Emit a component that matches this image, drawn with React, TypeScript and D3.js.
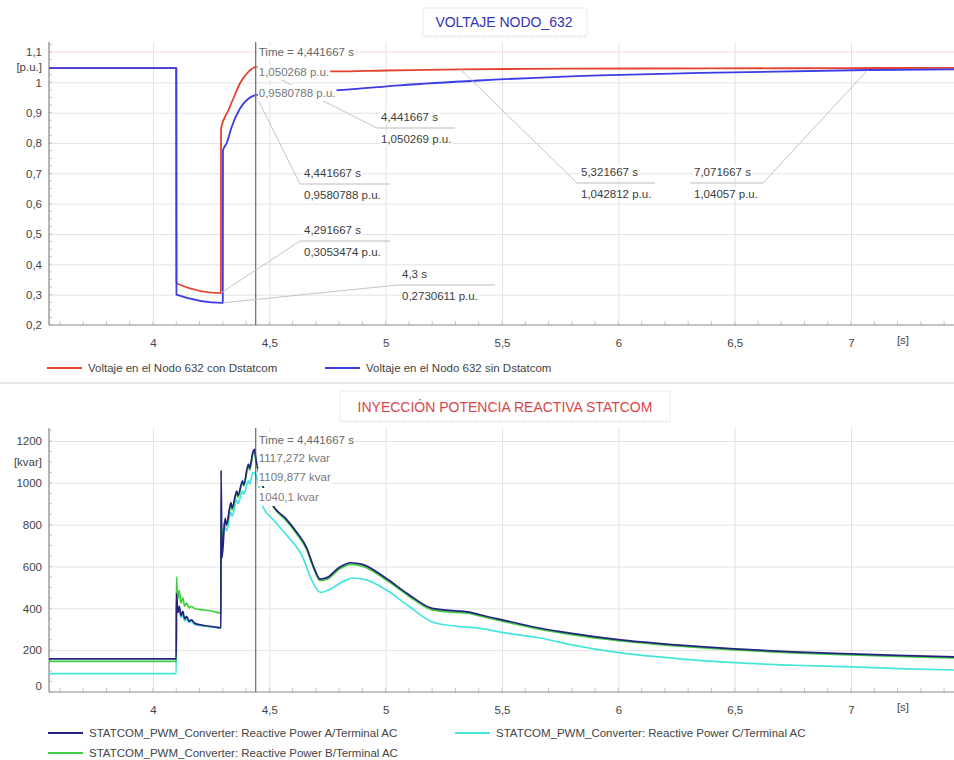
import React, { useEffect } from 'react';
import * as d3 from 'd3';

type Pt = [number, number];

// time axis (s)
const timeTicks = [4, 4.5, 5, 5.5, 6, 6.5, 7];
const timeTickLabels = ['4', '4,5', '5', '5,5', '6', '6,5', '7'];

// voltage axis (p.u.)
const voltTicks = [0.2, 0.3, 0.4, 0.5, 0.6, 0.7, 0.8, 0.9, 1, 1.1];
const voltTickLabels = ['0,2', '0,3', '0,4', '0,5', '0,6', '0,7', '0,8', '0,9', '1', '1,1'];

// reactive power axis (kvar)
const kvarTicks = [0, 200, 400, 600, 800, 1000, 1200];
const kvarTickLabels = ['0', '200', '400', '600', '800', '1000', '1200'];

// Voltaje nodo 632 con Dstatcom
const voltCon: Pt[] = [
  [3.55, 1.047], [4.1, 1.047], [4.1008, 0.345], [4.104, 0.336], [4.2917, 0.3053],
  [4.2925, 0.848], [4.324, 0.908], [4.35, 0.955], [4.374, 0.997], [4.408, 1.033],
  [4.4417, 1.0503], [4.5, 1.044], [4.62, 1.037], [4.78, 1.036], [5.0, 1.039],
  [5.3217, 1.0428], [5.8, 1.045], [6.4, 1.046], [7.0, 1.047], [7.45, 1.048],
];

// Voltaje nodo 632 sin Dstatcom
const voltSin: Pt[] = [
  [3.55, 1.047], [4.1, 1.047], [4.1008, 0.3], [4.3, 0.273], [4.3008, 0.776],
  [4.317, 0.8], [4.338, 0.853], [4.374, 0.914], [4.408, 0.945], [4.4417, 0.958],
  [4.6, 0.966], [4.82, 0.975], [5.06, 0.99], [5.4, 1.006], [5.92, 1.023],
  [6.35, 1.031], [7.0717, 1.0406], [7.45, 1.043],
];

// STATCOM reactive power, phase A
const qPhaseA: Pt[] = [
  [3.55, 158], [4.1, 158], [4.1008, 470], [4.107, 380], [4.113, 410], [4.12, 365],
  [4.128, 385], [4.136, 350], [4.144, 362], [4.155, 338], [4.165, 345], [4.18, 328],
  [4.22, 318], [4.26, 312], [4.2917, 308], [4.2925, 1060], [4.2965, 640], [4.31, 830],
  [4.316, 800], [4.335, 905], [4.34, 880], [4.36, 960], [4.365, 940], [4.385, 1010],
  [4.39, 990], [4.41, 1090], [4.415, 1070], [4.43, 1150], [4.437, 1160], [4.4417, 1117.272],
  [4.52, 885], [4.57, 830], [4.62, 760], [4.66, 690], [4.69, 600], [4.718, 540],
  [4.75, 548], [4.8, 595], [4.85, 618], [4.9, 610], [5.0, 545], [5.1, 465],
  [5.2, 400], [5.3, 388], [5.36, 382], [5.41, 368], [5.5, 345], [5.66, 306],
  [5.8, 280], [6.0, 250], [6.25, 225], [6.5, 206], [6.75, 192], [7.0, 182],
  [7.2, 175], [7.45, 168],
];

// STATCOM reactive power, phase B
const qPhaseB: Pt[] = [
  [3.55, 146], [4.1, 146], [4.1008, 550], [4.106, 445], [4.113, 485], [4.12, 425],
  [4.128, 450], [4.136, 410], [4.145, 425], [4.155, 402], [4.165, 410], [4.18, 398],
  [4.22, 392], [4.26, 385], [4.2917, 378], [4.2925, 660], [4.31, 820], [4.316, 795],
  [4.335, 895], [4.34, 870], [4.36, 950], [4.365, 930], [4.385, 1000], [4.39, 985],
  [4.41, 1080], [4.415, 1060], [4.43, 1140], [4.437, 1150], [4.4417, 1109.877],
  [4.52, 880], [4.57, 822], [4.62, 752], [4.66, 682], [4.69, 592], [4.718, 532],
  [4.75, 540], [4.8, 587], [4.85, 610], [4.9, 602], [5.0, 538], [5.1, 458],
  [5.2, 393], [5.3, 381], [5.36, 376], [5.41, 362], [5.5, 339], [5.66, 300],
  [5.8, 274], [6.0, 245], [6.25, 220], [6.5, 201], [6.75, 187], [7.0, 177],
  [7.2, 170], [7.45, 163],
];

// STATCOM reactive power, phase C
const qPhaseC: Pt[] = [
  [3.55, 88], [4.1, 88], [4.1008, 480], [4.106, 385], [4.113, 405], [4.12, 355],
  [4.128, 372], [4.136, 340], [4.145, 350], [4.155, 332], [4.165, 338], [4.18, 322],
  [4.22, 316], [4.26, 310], [4.2917, 306], [4.2925, 630], [4.31, 790], [4.316, 770],
  [4.335, 860], [4.34, 840], [4.36, 920], [4.365, 900], [4.385, 960], [4.39, 945],
  [4.41, 1010], [4.415, 995], [4.43, 1050], [4.4417, 1040.1], [4.473, 885],
  [4.52, 820], [4.57, 755], [4.645, 641], [4.68, 540], [4.72, 476], [4.76, 490],
  [4.82, 530], [4.86, 545], [4.92, 535], [5.0, 490], [5.1, 410], [5.2, 335],
  [5.3, 315], [5.4, 305], [5.5, 285], [5.664, 258], [5.8, 225], [6.0, 188],
  [6.25, 160], [6.5, 140], [6.75, 128], [7.0, 120], [7.2, 112], [7.45, 105],
];

const voltNames = ['Voltaje en el Nodo 632 con Dstatcom', 'Voltaje en el Nodo 632 sin Dstatcom'];
const qNames = [
  'STATCOM_PWM_Converter: Reactive Power A/Terminal AC',
  'STATCOM_PWM_Converter: Reactive Power B/Terminal AC',
  'STATCOM_PWM_Converter: Reactive Power C/Terminal AC',
];

const cursorTime = 4.441667;
const cursorTimeLabel = 'Time = 4,441667 s';
const cursorVoltLabels = ['1,050268 p.u.', '0,9580788 p.u.'];
const cursorQLabels = ['1117,272 kvar', '1109,877 kvar', '1040,1 kvar'];

// value markers on the voltage plot
const noteTimes = [4.441667, 4.441667, 4.291667, 4.3, 5.321667, 7.071667];
const noteValues = [1.050269, 0.9580788, 0.3053474, 0.2730611, 1.042812, 1.04057];
const noteTimeLabels = ['4,441667 s', '4,441667 s', '4,291667 s', '4,3 s', '5,321667 s', '7,071667 s'];
const noteValueLabels = ['1,050269 p.u.', '0,9580788 p.u.', '0,3053474 p.u.', '0,2730611 p.u.', '1,042812 p.u.', '1,04057 p.u.'];

const FONT = '"Liberation Sans", Arial, sans-serif';
const FS = 11.5;

const App = () => {
  useEffect(() => {
    drawCharts();
  }, []);

  const drawCharts = () => {
    d3.select('#charts').select('svg').remove();

    const W = 954;
    const H = 760;
    const left = 49;
    const right = W;

    const svg = d3
      .select('#charts')
      .append('svg')
      .attr('width', W)
      .attr('height', H)
      .style('display', 'block')
      .style('font-family', FONT);

    svg.append('rect').attr('width', W).attr('height', H).attr('fill', '#fff');

    const x = d3.scaleLinear().domain([4, 7]).range([153, 851]);
    const tMin = x.invert(left);
    const tMax = x.invert(right);

    // text with a white box behind it
    const label = (g: any, tx: number, ty: number, txt: string, color: string, pad = 0) => {
      const t = g
        .append('text')
        .attr('x', tx)
        .attr('y', ty)
        .attr('font-size', FS)
        .attr('fill', color)
        .text(txt);
      const b = (t.node() as SVGTextElement).getBBox();
      g.insert('rect', () => t.node())
        .attr('x', b.x - 1)
        .attr('y', b.y - pad)
        .attr('width', b.width + 2)
        .attr('height', b.height + pad * 2)
        .attr('fill', '#fff');
      return t;
    };

    const panel = (cfg: any) => {
      const { key, top, bottom, y, yTicks, yLabels, unit, unitY, series, colors, widths } = cfg;
      const g = svg.append('g');

      svg
        .append('clipPath')
        .attr('id', 'clip-' + key)
        .append('rect')
        .attr('x', left)
        .attr('y', top)
        .attr('width', right - left)
        .attr('height', bottom - top);

      // grid
      g.append('g')
        .attr('transform', `translate(0,${bottom})`)
        .call(d3.axisBottom(x).tickValues(timeTicks).tickSize(-(bottom - top)).tickFormat(() => ''))
        .call((s: any) => s.select('.domain').remove())
        .call((s: any) => s.selectAll('line').attr('stroke', '#e3e3e3'));
      g.append('g')
        .attr('transform', `translate(${left},0)`)
        .call(d3.axisLeft(y).tickValues(yTicks.filter((v: number) => y(v) < bottom - 1 && v !== cfg.limitLine)).tickSize(-(right - left)).tickFormat(() => ''))
        .call((s: any) => s.select('.domain').remove())
        .call((s: any) => s.selectAll('line').attr('stroke', '#e3e3e3'));
      if (cfg.limitLine !== undefined) {
        g.append('line')
          .attr('x1', left)
          .attr('x2', right)
          .attr('y1', y(cfg.limitLine))
          .attr('y2', y(cfg.limitLine))
          .attr('stroke', '#f5dada');
      }

      // minor ticks on the time axis
      const minor = d3.range(Math.ceil(tMin * 10), Math.floor(tMax * 10) + 1).map((d) => d / 10);
      g.selectAll('.mx')
        .data(minor)
        .enter()
        .append('line')
        .attr('x1', (d: number) => x(d))
        .attr('x2', (d: number) => x(d))
        .attr('y1', bottom)
        .attr('y2', bottom - 4)
        .attr('stroke', '#c8c8c8');
      const yMinor = d3.range(0, 41).map((i) => y.domain()[0] + (i * (yTicks[1] - yTicks[0])) / 4).filter((v: number) => y(v) >= top && y(v) <= bottom);
      g.selectAll('.my')
        .data(yMinor)
        .enter()
        .append('line')
        .attr('x1', left)
        .attr('x2', left + 3)
        .attr('y1', (d: number) => y(d))
        .attr('y2', (d: number) => y(d))
        .attr('stroke', '#c8c8c8');

      // axis lines
      g.append('line').attr('x1', left).attr('x2', left).attr('y1', top).attr('y2', bottom).attr('stroke', '#6e6e6e');
      g.append('line').attr('x1', left).attr('x2', right).attr('y1', bottom).attr('y2', bottom).attr('stroke', '#8a8a8a');

      // tick labels
      g.append('g')
        .attr('transform', `translate(0,${bottom})`)
        .call(d3.axisBottom(x).tickValues(timeTicks).tickSize(0).tickPadding(14).tickFormat((_d: any, i: number) => timeTickLabels[i]))
        .call((s: any) => s.select('.domain').remove())
        .call((s: any) => s.selectAll('text').attr('font-size', FS).attr('font-family', FONT).attr('fill', '#444'));
      g.append('text')
        .attr('x', 903)
        .attr('y', bottom + 19)
        .attr('text-anchor', 'middle')
        .attr('font-size', FS)
        .attr('fill', '#444')
        .text('[s]');
      g.append('g')
        .attr('transform', `translate(${left - 7},0)`)
        .call(d3.axisLeft(y).tickValues(yTicks).tickSize(0).tickPadding(0).tickFormat((_d: any, i: number) => yLabels[i]))
        .call((s: any) => s.select('.domain').remove())
        .call((s: any) => s.selectAll('text').attr('font-size', FS).attr('font-family', FONT).attr('fill', '#444'))
        .call((s: any) => s.selectAll('.tick').filter((d: number) => y(d) > bottom - 2 && cfg.liftZero).select('text').attr('dy', '-0.25em'));
      g.append('text')
        .attr('x', left - 7)
        .attr('y', unitY)
        .attr('text-anchor', 'end')
        .attr('font-size', FS)
        .attr('fill', '#444')
        .text(unit);

      // series
      const line = d3
        .line<Pt>()
        .x((d) => x(d[0]))
        .y((d) => y(d[1]))
        .curve(d3.curveMonotoneX);
      const lines = g.append('g').attr('clip-path', `url(#clip-${key})`);
      series.forEach((s: Pt[], i: number) => {
        lines
          .append('path')
          .datum(s)
          .attr('fill', 'none')
          .attr('stroke', colors[i])
          .attr('stroke-width', widths[i])
          .attr('stroke-linejoin', 'round')
          .attr('d', line);
      });

      // cursor
      g.append('line')
        .attr('x1', x(cursorTime))
        .attr('x2', x(cursorTime))
        .attr('y1', top)
        .attr('y2', bottom)
        .attr('stroke', '#4a4a4a');

      return g;
    };

    // ---------------- top: voltage ----------------
    const yV = d3.scaleLinear().domain([0.2, 1.1]).range([325, 52]);

    // title
    svg.append('rect').attr('x', 423).attr('y', 8).attr('width', 164).attr('height', 29).attr('fill', '#fff').attr('stroke', '#ececec');
    svg.append('line').attr('x1', 425).attr('x2', 585).attr('y1', 36).attr('y2', 36).attr('stroke', '#c9c9e6').attr('stroke-dasharray', '1,2');
    svg.append('text').attr('x', 504).attr('y', 27).attr('text-anchor', 'middle').attr('font-size', 14).attr('fill', '#3434b8').text('VOLTAJE NODO_632');

    const gV = panel({
      key: 'v',
      top: 42,
      bottom: 325,
      y: yV,
      yTicks: voltTicks,
      yLabels: voltTickLabels,
      unit: '[p.u.]',
      unitY: 71,
      series: [voltCon, voltSin],
      colors: ['#e5432f', '#3b3be8'],
      widths: [1.8, 1.8],
      limitLine: 1.1,
    });

    // markers: leader lines, separators, texts
    const boxX = [377, 300, 300, 398, 577, 690];
    const boxY = [128, 184, 241, 285, 183, 183];
    const boxW = [78, 90, 90, 97, 78, 73];
    const fromRight = [false, false, false, false, false, true];
    const notes = gV.append('g');
    noteTimes.forEach((t, i) => {
      const ax = fromRight[i] ? boxX[i] + boxW[i] : boxX[i];
      notes
        .append('line')
        .attr('x1', x(t))
        .attr('y1', yV(noteValues[i]))
        .attr('x2', ax)
        .attr('y2', boxY[i])
        .attr('stroke', '#c4c4c4');
      notes
        .append('line')
        .attr('x1', boxX[i])
        .attr('x2', boxX[i] + boxW[i])
        .attr('y1', boxY[i])
        .attr('y2', boxY[i])
        .attr('stroke', '#bdbdbd');
      label(notes, boxX[i] + 4, boxY[i] - 7, noteTimeLabels[i], '#3c3c3c');
      label(notes, boxX[i] + 4, boxY[i] + 14.5, noteValueLabels[i], '#3c3c3c');
    });

    const curV = gV.append('g');
    label(curV, x(cursorTime) + 3, 56, cursorTimeLabel, '#666', 1);
    label(curV, x(cursorTime) + 3, 76, cursorVoltLabels[0], '#777', 2);
    label(curV, x(cursorTime) + 3, 97, cursorVoltLabels[1], '#777', 2);

    // legend
    const legV = svg.append('g');
    [
      [47, '#e5432f'],
      [325, '#3b3be8'],
    ].forEach((d: any, i) => {
      legV.append('line').attr('x1', d[0]).attr('x2', d[0] + 35).attr('y1', 368).attr('y2', 368).attr('stroke', d[1]).attr('stroke-width', 2);
      legV
        .append('text')
        .attr('x', d[0] + 41)
        .attr('y', 372)
        .attr('font-size', FS)
        .attr('fill', '#444')
        .text(voltNames[i]);
    });

    // panel separator
    svg.append('line').attr('x1', 0).attr('x2', W).attr('y1', 383).attr('y2', 383).attr('stroke', '#e6e6e6').attr('stroke-width', 2);

    // ---------------- bottom: reactive power ----------------
    const yQ = d3.scaleLinear().domain([0, 1200]).range([692, 441]);

    svg.append('rect').attr('x', 340).attr('y', 391).attr('width', 330).attr('height', 31).attr('fill', '#fff').attr('stroke', '#ececec');
    svg.append('line').attr('x1', 342).attr('x2', 668).attr('y1', 421).attr('y2', 421).attr('stroke', '#d8c8d8').attr('stroke-dasharray', '1,2');
    svg.append('text').attr('x', 505).attr('y', 412).attr('text-anchor', 'middle').attr('font-size', 14).attr('fill', '#d9454a').text('INYECCIÓN POTENCIA REACTIVA STATCOM');

    const gQ = panel({
      key: 'q',
      top: 428,
      bottom: 692,
      y: yQ,
      yTicks: kvarTicks,
      yLabels: kvarTickLabels,
      unit: '[kvar]',
      unitY: 466,
      series: [qPhaseC, qPhaseB, qPhaseA],
      colors: ['#44e6dc', '#3fcf3f', '#23237e'],
      widths: [1.7, 1.7, 1.7],
      liftZero: true,
    });

    const curQ = gQ.append('g');
    label(curQ, x(cursorTime) + 3, 444, cursorTimeLabel, '#666', 1);
    label(curQ, x(cursorTime) + 3, 462, cursorQLabels[0], '#777', 3);
    label(curQ, x(cursorTime) + 3, 481, cursorQLabels[1], '#777', 3);
    label(curQ, x(cursorTime) + 3, 501, cursorQLabels[2], '#8a7a7a', 3);

    const legQ = svg.append('g');
    [
      [48, 733, '#23237e'],
      [48, 753, '#3fcf3f'],
      [455, 733, '#44e6dc'],
    ].forEach((d: any, i) => {
      legQ.append('line').attr('x1', d[0]).attr('x2', d[0] + 35).attr('y1', d[1]).attr('y2', d[1]).attr('stroke', d[2]).attr('stroke-width', 2);
      legQ
        .append('text')
        .attr('x', d[0] + 41)
        .attr('y', d[1] + 4)
        .attr('font-size', FS)
        .attr('fill', '#444')
        .text(qNames[i]);
    });
  };

  return <div id="charts" style={{ position: 'absolute', left: 0, top: 0 }}></div>;
};

export default App;
